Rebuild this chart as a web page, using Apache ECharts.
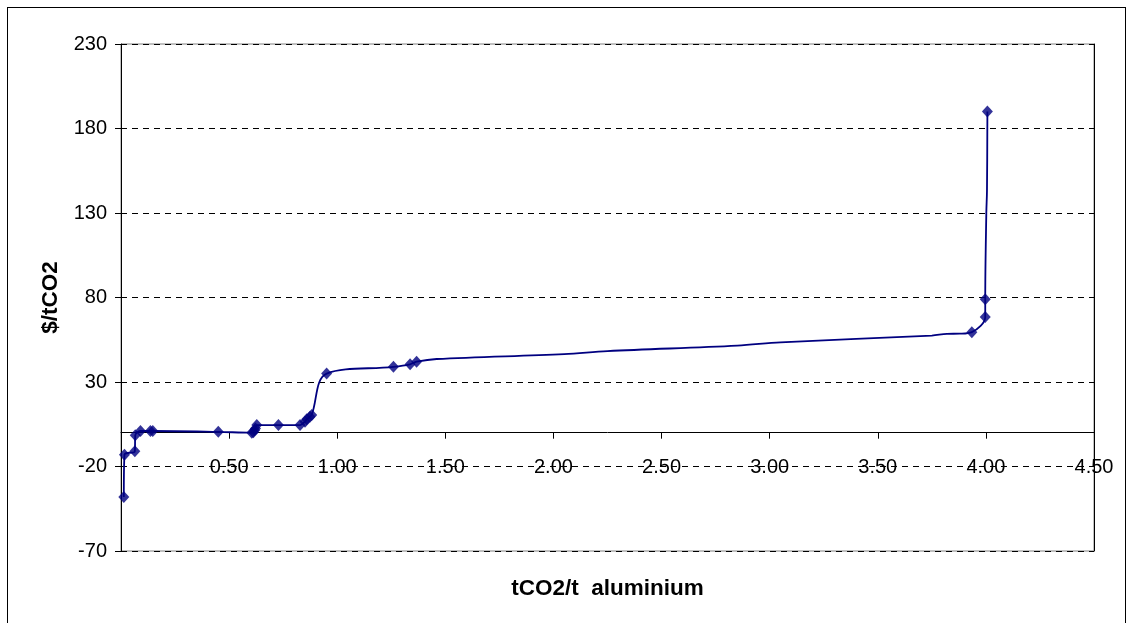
<!DOCTYPE html>
<html>
<head>
<meta charset="utf-8">
<script src="https://cdn.jsdelivr.net/npm/echarts@6/dist/echarts.min.js"></script>
<style>
  html, body { margin: 0; padding: 0; background: #fff; }
  #frame { position: absolute; left: 7px; top: 7px; width: 1119px; height: 640px; border: 1px solid #000; box-sizing: border-box; }
  #chart { position: absolute; left: 0; top: 0; width: 1133px; height: 623px; }
</style>
</head>
<body>
<div id="frame"></div>
<div id="chart"></div>
<script>
// Full smoothed path (markers + intermediate curve points)
const pathX = [0.013, 0.016, 0.064, 0.066, 0.090, 0.136, 0.147, 0.450, 0.605, 0.612, 0.618, 0.622, 0.628, 0.728, 0.828, 0.851, 0.859, 0.874, 0.882, 0.951, 1.260, 1.337, 1.367, 1.460, 2.050, 2.250, 2.850, 3.050, 3.750, 3.820, 3.880, 3.935, 3.997, 3.997, 4.002, 4.005, 4.007];
const pathY = [-38, -13, -11, -1.5, 1, 1, 1, 0.5, 0, 0.3, 1.5, 2.5, 4.5, 4.5, 4.5, 6.5, 8, 9.5, 10.5, 35, 39, 40.5, 42, 43.6, 46.5, 48.3, 51.5, 53.5, 57.5, 58.5, 58.6, 59.5, 68.5, 79, 130, 143, 190];
// Marked data points
const markX = [0.013, 0.016, 0.064, 0.066, 0.090, 0.136, 0.147, 0.450, 0.605, 0.612, 0.618, 0.622, 0.628, 0.728, 0.828, 0.851, 0.859, 0.874, 0.882, 0.951, 1.260, 1.337, 1.367, 3.935, 3.997, 3.997, 4.007];
const markY = [-38, -13, -11, -1.5, 1, 1, 1, 0.5, 0, 0.3, 1.5, 2.5, 4.5, 4.5, 4.5, 6.5, 8, 9.5, 10.5, 35, 39, 40.5, 42, 59.5, 68.5, 79, 190];
const xAxisTitle = 'tCO2/t  aluminium';
const yAxisTitle = '$/tCO2';

const FONT = '"Liberation Sans", Arial, sans-serif';
const chart = echarts.init(document.getElementById('chart'), null, { renderer: 'canvas' });
chart.setOption({
  animation: false,
  backgroundColor: 'transparent',
  grid: { left: 121, right: 39, top: 44, bottom: 72, containLabel: false, outerBoundsMode: 'none',
    show: true, borderColor: '#808080', borderWidth: 1, backgroundColor: 'transparent' },
  xAxis: {
    type: 'value', min: 0, max: 4.5, interval: 0.5,
    axisLine: { show: true, onZero: true, lineStyle: { color: '#000', width: 1 } },
    axisTick: { show: true, length: 6, lineStyle: { color: '#000' } },
    axisLabel: { show: true, margin: -94, color: '#000', fontFamily: FONT, fontSize: 20,
      formatter: v => v === 0 ? '' : v.toFixed(2), showMaxLabel: true },
    splitLine: { show: false },
    name: xAxisTitle, nameLocation: 'middle', nameGap: 26,
    nameTextStyle: { color: '#000', fontFamily: FONT, fontSize: 22.5, fontWeight: 'bold' }
  },
  yAxis: [{
    type: 'value', min: -70, max: 230, interval: 50,
    axisLine: { show: true, onZero: false, lineStyle: { color: '#000', width: 1 } },
    axisTick: { show: true, length: 6, lineStyle: { color: '#000' } },
    axisLabel: { margin: 14, color: '#000', fontFamily: FONT, fontSize: 20 },
    splitLine: { show: true, lineStyle: { color: '#000', type: [6, 5], width: 1 } },
    name: yAxisTitle, nameLocation: 'middle', nameGap: 56, nameRotate: 90,
    nameTextStyle: { color: '#000', fontFamily: FONT, fontSize: 22.5, fontWeight: 'bold' }
  }, {
    type: 'value', min: -70, max: 230, interval: 50, position: 'right',
    axisLine: { show: true, onZero: false, lineStyle: { color: '#000', width: 1 } },
    axisTick: { show: false }, axisLabel: { show: false }, splitLine: { show: false }
  }],
  series: [{
    type: 'line',
    data: pathX.map((x, i) => [x, pathY[i]]),
    smooth: 0.35,
    showSymbol: false, symbol: 'none',
    lineStyle: { color: '#000080', width: 1.8 },
    z: 3
  }, {
    type: 'scatter',
    data: markX.map((x, i) => [x, markY[i]]),
    symbol: 'diamond', symbolSize: [11, 12],
    itemStyle: { color: '#000080' },
    z: 4
  }]
});
</script>
</body>
</html>
